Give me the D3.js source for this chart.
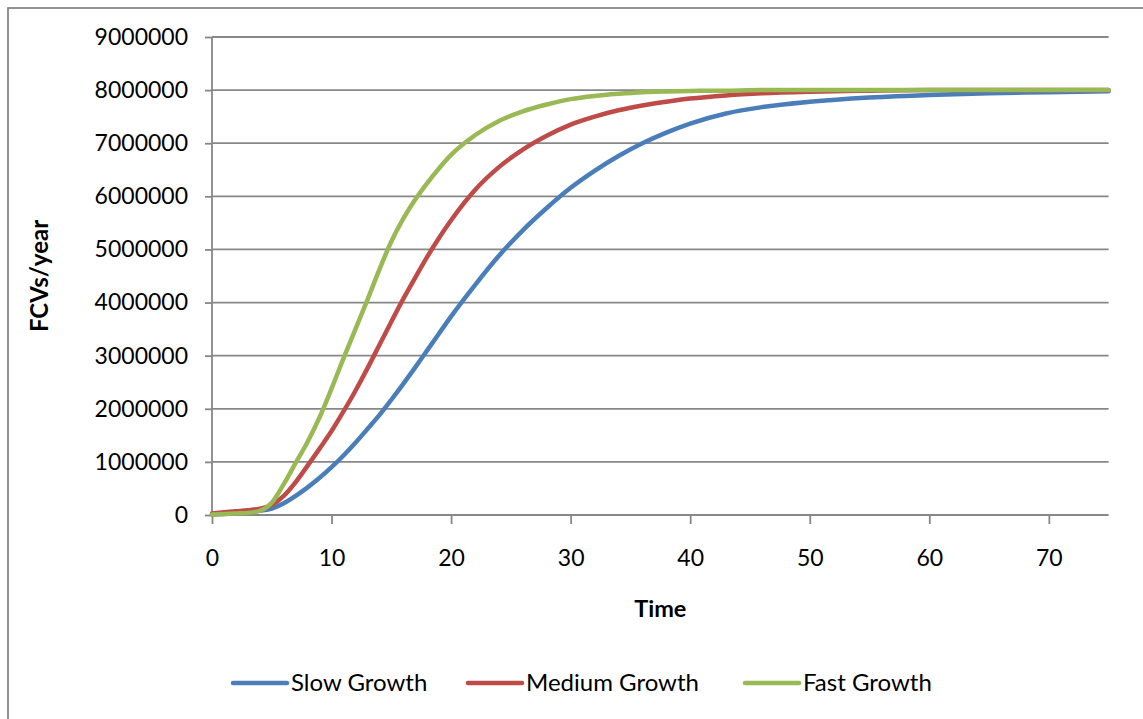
<!DOCTYPE html>
<html>
<head>
<meta charset="utf-8">
<script src="https://cdn.jsdelivr.net/npm/d3@7"></script>
<style>
  html, body { margin: 0; padding: 0; background: #fff; }
  svg { display: block; }
  text { font-family: Lato, "Open Sans", sans-serif; fill: #000; }
</style>
</head>
<body>
<svg id="chart" width="1143" height="719"></svg>
<script>
// ---- data ----
const time = [0,1,2,3,4,5,6,7,8,9,10,11,12,13,14,15,16,17,18,19,20,22,24,26,28,30,32,34,36,38,40,43,46,50,55,60,65,70,75];
const slowGrowth = [10000,20000,30000,50000,80000,120000,220000,360000,520000,700000,900000,1120000,1360000,1620000,1880000,2170000,2470000,2780000,3100000,3420000,3740000,4330000,4880000,5360000,5780000,6160000,6480000,6760000,7000000,7200000,7370000,7560000,7680000,7780000,7860000,7910000,7940000,7960000,7980000];
const mediumGrowth = [30000,50000,70000,90000,120000,190000,360000,620000,930000,1250000,1580000,1950000,2340000,2760000,3200000,3640000,4070000,4470000,4860000,5220000,5550000,6120000,6550000,6880000,7140000,7350000,7500000,7620000,7710000,7780000,7840000,7900000,7940000,7970000,7990000,8000000,8000000,8000000,8000000];
const fastGrowth = [10000,20000,30000,40000,80000,230000,580000,980000,1380000,1840000,2380000,2950000,3500000,4050000,4620000,5150000,5580000,5940000,6250000,6530000,6780000,7150000,7420000,7600000,7730000,7830000,7890000,7930000,7960000,7975000,7985000,7990000,8000000,8000000,8000000,8000000,8000000,8000000,8000000];
const seriesNames = ["Slow Growth", "Medium Growth", "Fast Growth"];
const seriesColors = ["#4a7ebb", "#be4b48", "#98b954"];
const xTicks = [0,10,20,30,40,50,60,70];
const yTicks = [0,1000000,2000000,3000000,4000000,5000000,6000000,7000000,8000000,9000000];

// ---- layout ----
const svg = d3.select("#chart");
const mLeft = 212, mRight = 1108.6, mTop = 37, mBottom = 515;
const x = d3.scaleLinear().domain([0, 75]).range([mLeft, mRight]);
const y = d3.scaleLinear().domain([0, 9000000]).range([mBottom, mTop]);
const gray = "#878787";

// outer border
svg.append("rect").attr("x", 8).attr("y", 8).attr("width", 1160).attr("height", 740)
  .attr("fill", "none").attr("stroke", gray).attr("stroke-width", 1.8);

// gridlines
svg.append("g").selectAll("line").data(yTicks.filter(d => d > 0)).join("line")
  .attr("x1", mLeft).attr("x2", mRight)
  .attr("y1", d => y(d)).attr("y2", d => y(d))
  .attr("stroke", gray).attr("stroke-width", 1.8);

// y axis
const yAxis = svg.append("g").attr("transform", `translate(${mLeft},0)`)
  .call(d3.axisLeft(y).tickValues(yTicks).tickFormat(d3.format("d")).tickSize(7).tickPadding(17));
// x axis
const xAxis = svg.append("g").attr("transform", `translate(0,${mBottom})`)
  .call(d3.axisBottom(x).tickValues(xTicks).tickFormat(d3.format("d")).tickSize(9).tickPadding(26).tickSizeOuter(0));
[yAxis, xAxis].forEach(g => {
  g.select(".domain").attr("stroke", gray).attr("stroke-width", 1.8);
  g.selectAll(".tick line").attr("stroke", gray).attr("stroke-width", 1.8);
  g.selectAll(".tick text").attr("font-size", 23).attr("font-family", "Lato, sans-serif").attr("fill", "#000");
});
yAxis.select(".domain").attr("d", `M0,${mBottom}V${mTop}`);
xAxis.select(".domain").attr("d", `M${mLeft},0H${mRight}`);

// lines
const seriesData = [slowGrowth, mediumGrowth, fastGrowth];
const line = d3.line().x((d, i) => x(time[i])).y(d => y(d)).curve(d3.curveMonotoneX);
seriesData.forEach((s, k) => {
  svg.append("path").datum(s).attr("d", line)
    .attr("fill", "none").attr("stroke", seriesColors[k]).attr("stroke-width", 4.5)
    .attr("stroke-linecap", "round").attr("stroke-linejoin", "round");
});

// axis titles
svg.append("text").attr("x", (mLeft + mRight) / 2).attr("y", 617).attr("text-anchor", "middle")
  .attr("font-size", 23.5).attr("font-weight", "bold").text("Time");
svg.append("text").attr("transform", `translate(48,${(mTop + mBottom) / 2}) rotate(-90)`)
  .attr("text-anchor", "middle").attr("font-size", 24).attr("font-weight", "bold").text("FCVs/year");

// legend
const legendX = [233, 468, 745];
const legendY = 683;
seriesNames.forEach((n, k) => {
  svg.append("line").attr("x1", legendX[k]).attr("x2", legendX[k] + 54)
    .attr("y1", legendY).attr("y2", legendY)
    .attr("stroke", seriesColors[k]).attr("stroke-width", 4.5).attr("stroke-linecap", "round");
  svg.append("text").attr("x", legendX[k] + 58).attr("y", legendY).attr("dy", "0.35em")
    .attr("font-size", 24).text(n);
});
</script>
</body>
</html>
